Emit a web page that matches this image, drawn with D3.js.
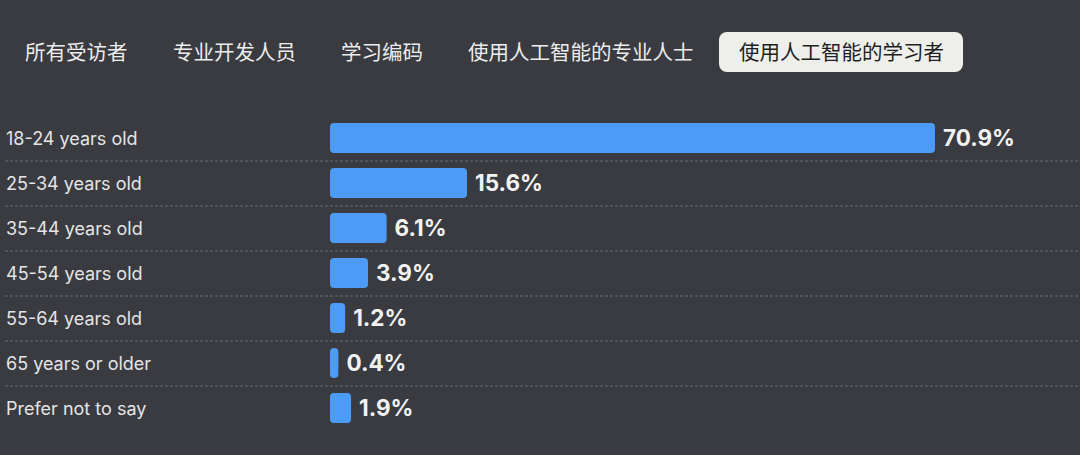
<!DOCTYPE html>
<html>
<head>
<meta charset="utf-8">
<script src="https://cdn.jsdelivr.net/npm/d3@7/dist/d3.min.js"></script>
<style>
  html, body { margin: 0; padding: 0; background: #393b40; }
  svg { display: block; }
</style>
</head>
<body>
<svg id="chart" width="1080" height="455"></svg>
<script>
// tabs across the top, last one is selected
const TABS = ['所有受访者', '专业开发人员', '学习编码', '使用人工智能的专业人士', '使用人工智能的学习者'];
const TAB_X = [25, 173, 341, 468, 739];
const ACTIVE_TAB = 4;

// age groups and share (%)
const CATEGORIES = [
  '18-24 years old',
  '25-34 years old',
  '35-44 years old',
  '45-54 years old',
  '55-64 years old',
  '65 years or older',
  'Prefer not to say'
];
const VALUES = [70.9, 15.6, 6.1, 3.9, 1.2, 0.4, 1.9];

const svg = d3.select('#chart');

svg.append('rect')
  .attr('width', 1080)
  .attr('height', 455)
  .attr('fill', '#393b40');

/* tabs */
const tabs = svg.append('g').attr('class', 'tabs');

tabs.append('rect')
  .attr('x', 719)
  .attr('y', 32)
  .attr('width', 244)
  .attr('height', 40)
  .attr('rx', 8)
  .attr('fill', '#eeeeeb');

tabs.selectAll('text')
  .data(TABS)
  .enter()
  .append('text')
  .attr('x', (d, i) => TAB_X[i])
  .attr('y', 53)
  .attr('dy', '0.35em')
  .style('font-family', '"Noto Sans CJK SC", sans-serif')
  .style('font-size', '20.5px')
  .attr('fill', (d, i) => i === ACTIVE_TAB ? '#1e1f22' : '#ececec')
  .text(d => d);

/* scales */
const y = d3.scaleBand()
  .domain(CATEGORIES)
  .range([115.5, 430.5])
  .paddingInner(1 / 3)
  .paddingOuter(1 / 6);

const x = d3.scaleLinear()
  .domain([0, 70.9])
  .range([335, 935]);

const BAR_START = 330; // bars get a small stub so tiny values still show

/* dashed separators between rows */
svg.append('g')
  .selectAll('line')
  .data(CATEGORIES.slice(0, -1))
  .enter()
  .append('line')
  .attr('x1', 5)
  .attr('x2', 1080)
  .attr('y1', d => y(d) + y.bandwidth() + y.step() / 6 + 0.5)
  .attr('y2', d => y(d) + y.bandwidth() + y.step() / 6 + 0.5)
  .attr('stroke', '#6a6c71')
  .attr('stroke-width', 1)
  .attr('stroke-dasharray', '3,2');

/* category labels */
svg.append('g')
  .selectAll('text')
  .data(CATEGORIES)
  .enter()
  .append('text')
  .attr('x', 6)
  .attr('y', d => y(d) + y.bandwidth() / 2 + 1)
  .attr('dy', '0.35em')
  .style('font-family', 'Inter, sans-serif')
  .style('font-size', '18px')
  .attr('fill', '#e4e4e4')
  .text(d => d);

/* bars */
const rows = CATEGORIES.map((c, i) => ({ cat: c, value: VALUES[i] }));

svg.append('g')
  .selectAll('rect')
  .data(rows)
  .enter()
  .append('rect')
  .attr('x', BAR_START)
  .attr('y', d => y(d.cat))
  .attr('width', d => x(d.value) - BAR_START)
  .attr('height', y.bandwidth())
  .attr('rx', 4)
  .attr('fill', '#4b9bf7');

/* value labels */
svg.append('g')
  .selectAll('text')
  .data(rows)
  .enter()
  .append('text')
  .attr('x', d => x(d.value) + 8)
  .attr('y', d => y(d.cat) + y.bandwidth() / 2)
  .attr('dy', '0.35em')
  .style('font-family', 'Inter, sans-serif')
  .style('font-size', '22.5px')
  .style('font-weight', 700)
  .attr('fill', '#f2f2f2')
  .text(d => d.value.toFixed(1) + '%');
</script>
</body>
</html>
